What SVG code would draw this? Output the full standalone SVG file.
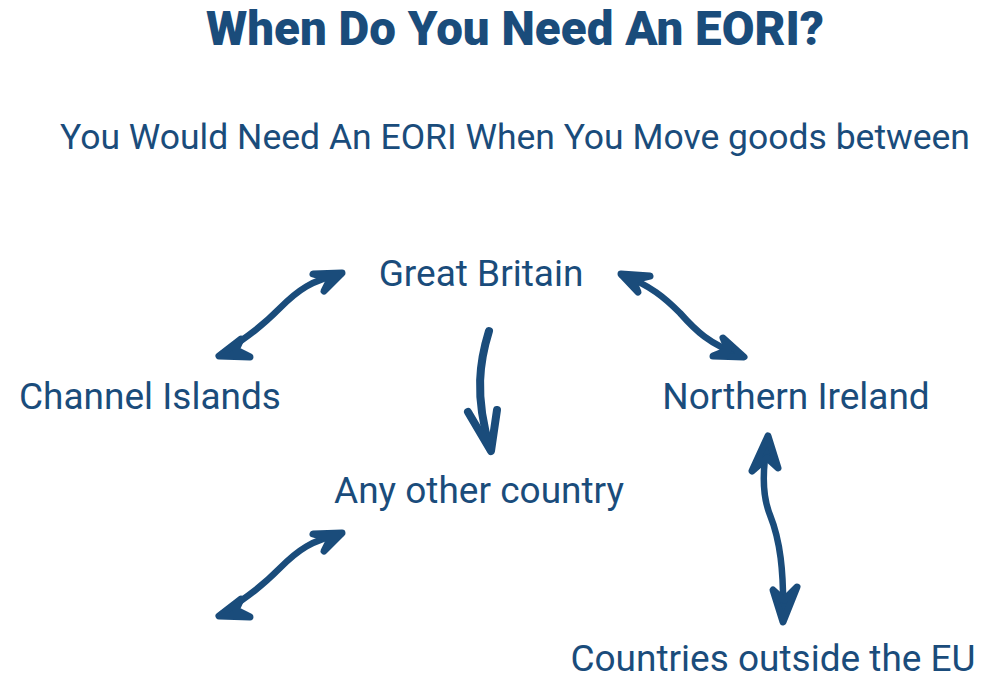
<svg xmlns="http://www.w3.org/2000/svg" width="1000" height="689" viewBox="0 0 1000 689">
<style>
.t{font-family:Roboto,"Liberation Sans",sans-serif;fill:#1a4c7b}
.h{font-size:47.5px;font-weight:900}
.s{font-size:35.5px}
.l{font-size:37px}
.a{fill:none;stroke:#1a4c7b;stroke-width:6.5;stroke-linecap:round;stroke-linejoin:round}
.hd{fill:#1a4c7b;stroke:#1a4c7b;stroke-width:7;stroke-linecap:round;stroke-linejoin:round}
</style>
<rect width="1000" height="689" fill="#fff"/>
<text class="t h" x="515" y="45" text-anchor="middle">When Do You Need An EORI?</text>
<text class="t s" x="515" y="149" text-anchor="middle">You Would Need An EORI When You Move goods between</text>
<g id="gb"><text class="t l" x="481" y="286" text-anchor="middle">Great Britain</text></g>
<g id="ci"><text class="t l" x="150" y="409" text-anchor="middle">Channel Islands</text></g>
<g id="ni"><text class="t l" x="796" y="409" text-anchor="middle">Northern Ireland</text></g>
<g id="aoc"><text class="t l" x="479" y="503" text-anchor="middle">Any other country</text></g>
<g id="coe"><text class="t l" x="773" y="671" text-anchor="middle">Countries outside the EU</text></g>
<g id="connectors">
<g>
<path class="a" d="M222,354 C250,335 262,326 280,308 C298,290 312,280 341,274"/>
<path class="hd" d="M241,339 L219,356 L250,357 L236,350 Z"/>
<path class="hd" d="M313,274 L342,273 L324,291 L330,279 Z"/>
</g>
<g>
<path class="a" d="M622,275 C650,285 665,298 680,313 C695,330 710,345 741,355"/>
<path class="hd" d="M650,276 L621,274 L638,292 L633,280 Z"/>
<path class="hd" d="M723,338 L744,357 L713,356 L728,350 Z"/>
</g>
<g>
<path class="a" style="stroke-width:8" d="M489,331 C480,360 474,395 490,448"/>
<path class="hd" style="stroke-width:8;fill:none" d="M468,412 L491,451 L497,410"/>
</g>
<g transform="translate(0,260)">
<path class="a" d="M222,354 C250,335 262,326 280,308 C298,290 312,280 341,274"/>
<path class="hd" d="M241,339 L219,356 L250,357 L236,350 Z"/>
<path class="hd" d="M313,274 L342,273 L324,291 L330,279 Z"/>
</g>
<g>
<path class="a" d="M768,440 C762,470 762,495 770,515 C780,540 784,570 783,618"/>
<path class="hd" d="M752,471 L768,436 L778,468 L767,458 Z"/>
<path class="hd" d="M773,590 L783,622 L797,587 L784,600 Z"/>
</g>
</g>
</svg>
